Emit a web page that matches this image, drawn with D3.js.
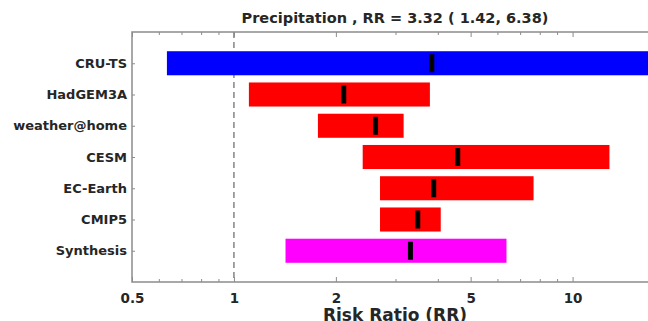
<!DOCTYPE html>
<html>
<head>
<meta charset="utf-8">
<script src="https://cdn.jsdelivr.net/npm/d3@7"></script>
<style>
  body { margin: 0; background: #fff; }
  svg { display: block; font-family: "DejaVu Sans", sans-serif; font-weight: bold; }
</style>
</head>
<body>
<div id="chart"></div>
<script>
const categories = ["CRU-TS", "HadGEM3A", "weather@home", "CESM", "EC-Earth", "CMIP5", "Synthesis"];
const lower = [0.634, 1.107, 1.77, 2.40, 2.70, 2.70, 1.42];
const best = [3.84, 2.11, 2.62, 4.58, 3.89, 3.49, 3.32];
const upper = [25, 3.79, 3.17, 12.85, 7.67, 4.08, 6.38];
const barColors = ["#0000ff", "#ff0000", "#ff0000", "#ff0000", "#ff0000", "#ff0000", "#ff00ff"];
const majorTicks = [0.5, 1, 2, 5, 10];
const minorTicks = [0.6, 0.7, 0.8, 0.9, 3, 4, 6, 7, 8, 9];
const title = "Precipitation , RR = 3.32 ( 1.42, 6.38)";

const width = 648, height = 321;
const margin = {top: 32, left: 132, bottom: 282};
const textColor = "#262626";
const axisColor = "#8c8c8c";

const svg = d3.select("#chart").append("svg")
  .attr("width", width)
  .attr("height", height);

const x = d3.scaleLog().domain([0.5, 16.7]).range([margin.left, width]);
const y = d3.scaleLinear().domain([0, categories.length + 1]).range([margin.top, margin.bottom]);
const barH = (y(1) - y(0)) * 0.77;
const markH = 18, markW = 5;

svg.append("defs").append("clipPath").attr("id", "plot")
  .append("rect")
  .attr("x", margin.left).attr("y", margin.top)
  .attr("width", width - margin.left).attr("height", margin.bottom - margin.top);

// reference line at RR = 1
svg.append("line")
  .attr("x1", x(1)).attr("x2", x(1))
  .attr("y1", margin.top).attr("y2", margin.bottom)
  .attr("stroke", "#666")
  .attr("stroke-width", 1.2)
  .attr("stroke-dasharray", "6,4");

const rows = svg.append("g").attr("clip-path", "url(#plot)")
  .selectAll("g")
  .data(categories)
  .join("g");

rows.append("rect")
  .attr("x", (d, i) => x(lower[i]))
  .attr("y", (d, i) => y(i + 1) - barH / 2)
  .attr("width", (d, i) => x(upper[i]) - x(lower[i]))
  .attr("height", barH)
  .attr("fill", (d, i) => barColors[i]);

rows.append("rect")
  .attr("x", (d, i) => x(best[i]) - markW / 2)
  .attr("y", (d, i) => y(i + 1) - markH / 2)
  .attr("width", markW)
  .attr("height", markH)
  .attr("fill", "#000");

// axes, ticks inward
function styleAxis(g) {
  g.select(".domain").remove();
  g.selectAll(".tick line").attr("stroke", axisColor);
}

svg.append("g")
  .attr("transform", `translate(0,${margin.bottom})`)
  .call(d3.axisBottom(x).tickValues(majorTicks).tickSize(-5).tickPadding(11).tickFormat(d3.format("")))
  .call(styleAxis)
  .call(g => g.selectAll(".tick text")
    .attr("fill", textColor)
    .attr("font-size", 13.5)
    .attr("font-family", "DejaVu Sans, sans-serif")
    .attr("font-weight", "bold"));

svg.append("g")
  .attr("transform", `translate(0,${margin.bottom})`)
  .call(d3.axisBottom(x).tickValues(minorTicks).tickSize(-3).tickFormat(""))
  .call(styleAxis);

svg.append("g")
  .attr("transform", `translate(0,${margin.top})`)
  .call(d3.axisTop(x).tickValues(majorTicks).tickSize(-5).tickFormat(""))
  .call(styleAxis);

svg.append("g")
  .attr("transform", `translate(0,${margin.top})`)
  .call(d3.axisTop(x).tickValues(minorTicks).tickSize(-3).tickFormat(""))
  .call(styleAxis);

svg.append("g")
  .attr("transform", `translate(${margin.left},0)`)
  .call(d3.axisLeft(y).tickValues(d3.range(1, categories.length + 1))
    .tickSize(-3).tickPadding(5).tickFormat(i => categories[i - 1]))
  .call(styleAxis)
  .call(g => g.selectAll(".tick text")
    .attr("fill", textColor)
    .attr("font-size", 13)
    .attr("font-family", "DejaVu Sans, sans-serif")
    .attr("font-weight", "bold"));

// spines
svg.append("path")
  .attr("d", `M${width},${margin.top}H${margin.left}V${margin.bottom}H${width}`)
  .attr("fill", "none")
  .attr("stroke", axisColor)
  .attr("stroke-width", 1.5);

svg.append("text")
  .attr("x", 395).attr("y", 23)
  .attr("text-anchor", "middle")
  .attr("font-size", 14.5)
  .attr("fill", textColor)
  .text(title);

svg.append("text")
  .attr("x", 395).attr("y", 321)
  .attr("text-anchor", "middle")
  .attr("font-size", 17)
  .attr("fill", textColor)
  .text("Risk Ratio (RR)");
</script>
</body>
</html>
